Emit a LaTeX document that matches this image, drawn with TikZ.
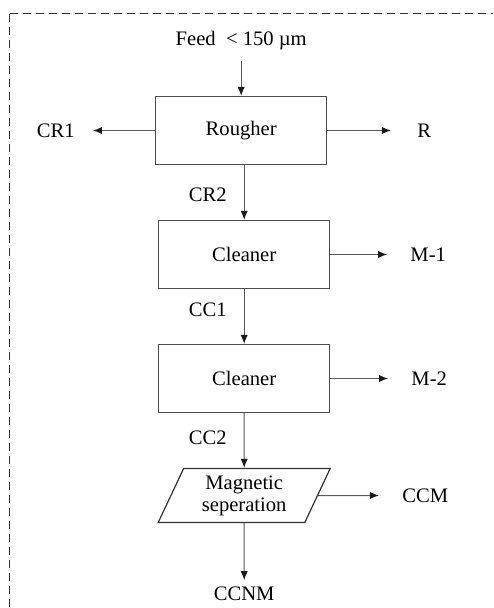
\documentclass[tikz,border=0pt]{standalone}
\usepackage{fontspec}
\setmainfont{Liberation Serif}
\usepackage{tikz}
\usetikzlibrary{
  positioning,
  arrows.meta,
  shapes.geometric
}
\tikzset{
  >=Latex,
  flowarrow/.style={-{Latex[length=4.5pt,width=3.6pt,color=black!90]},draw=black!65,line width=0.5pt},
  outflow/.style={flowarrow,shorten >=8.5pt},
  process/.style={rectangle,draw=black!70,line width=0.6pt,minimum width=85.5pt,minimum height=34pt,align=center},
  io/.style={trapezium,trapezium left angle=60,trapezium right angle=120,trapezium stretches body,draw=black!80,line width=0.6pt,minimum width=86pt,minimum height=27pt,align=center,inner sep=1pt},
  stream/.style={align=center,inner sep=3pt},
  frame/.style={draw=black!80,line width=0.5pt,dash pattern=on 4pt off 2.5pt}
}

\begin{document}
\begin{tikzpicture}[node distance=62pt, on grid, font=\fontsize{10.3}{11}\selectfont]
    \useasboundingbox (-120.6pt,-238.75pt) rectangle (125.9pt,65.25pt);
    \clip (-120.6pt,-238.75pt) rectangle (125.9pt,65.25pt);
    \draw[frame] (-115.85pt,58.25pt) rectangle (140pt,-260pt);

    \node[process] (rougher) {Rougher};
    \node[stream,above=45pt of rougher] (feed) {Feed~~< 150 µm};
    \node[stream,left=92.75pt of rougher] (cr1) {CR1};
    \node[stream,right=91.5pt of rougher] (r) {R};
    \node[process,below=of rougher,xshift=1.5pt] (clean1) {Cleaner};
    \node[stream,right=92pt of clean1] (m1) {M-1};
    \node[process,below=of clean1] (clean2) {Cleaner};
    \node[stream,right=92.5pt of clean2] (m2) {M-2};
    \node[io,below=58.5pt of clean2] (magsep) {Magnetic\\seperation};
    \node[stream,right=90.5pt of magsep] (ccm) {CCM};
    \node[stream,below=49pt of magsep] (ccnm) {CCNM};

    \draw[flowarrow,shorten <=2.5pt] (feed) -- (rougher);
    \draw[flowarrow,shorten >=6pt] (rougher) -- (cr1);
    \draw[outflow,shorten >=10pt] (rougher) -- (r);
    \draw[flowarrow] (rougher.south -| clean1) -- node[stream,left=5.5pt,pos=0.54]{CR2} (clean1);
    \draw[outflow] (clean1) -- (m1);
    \draw[flowarrow] (clean1) -- node[stream,left=5.5pt,pos=0.37]{CC1} (clean2);
    \draw[outflow] (clean2) -- (m2);
    \draw[flowarrow] (clean2) -- node[stream,left=5.5pt,pos=0.45]{CC2} (magsep);
    \draw[outflow] (magsep) -- (ccm);
    \draw[flowarrow] (magsep) -- (ccnm);
\end{tikzpicture}
\end{document}
